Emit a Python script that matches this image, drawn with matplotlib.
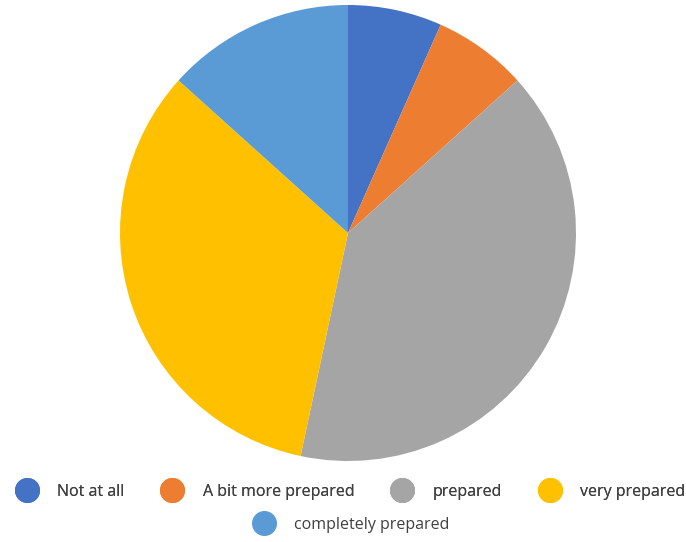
import matplotlib
matplotlib.use("Agg")
import matplotlib.pyplot as plt
from matplotlib.lines import Line2D

categories = ["Not at all", "A bit more prepared", "prepared", "very prepared", "completely prepared"]
counts = [1, 1, 6, 5, 2]
colors = ["#4472C4", "#ED7D31", "#A5A5A5", "#FFC000", "#5B9BD5"]

plt.rcParams["font.family"] = ["Open Sans", "DejaVu Sans"]

fig = plt.figure(figsize=(6.86, 5.42), dpi=100)
ax = fig.add_axes([120 / 686, 81 / 542, 456 / 686, 456 / 542])
ax.pie(counts, colors=colors, startangle=90, counterclock=False,
       wedgeprops=dict(linewidth=0))
ax.set_xlim(-1, 1)
ax.set_ylim(-1, 1)
ax.set_aspect("equal")
ax.axis("off")

def handle(c):
    return Line2D([], [], marker="o", linestyle="none", markersize=17,
                  markerfacecolor=c, markeredgecolor=c)

row1 = fig.legend([handle(c) for c in colors[:4]], categories[:4], ncol=4,
                  loc="center", bbox_to_anchor=(348 / 686, 1 - 492 / 542),
                  frameon=False, fontsize=11.5, handletextpad=0.9,
                  columnspacing=2.0, labelcolor="#404040")
fig.add_artist(row1)
fig.legend([handle(colors[4])], categories[4:], ncol=1,
           loc="center", bbox_to_anchor=(349 / 686, 1 - 525 / 542),
           frameon=False, fontsize=11.5, handletextpad=0.9,
           labelcolor="#404040")

fig.savefig("out.png", dpi=100)
